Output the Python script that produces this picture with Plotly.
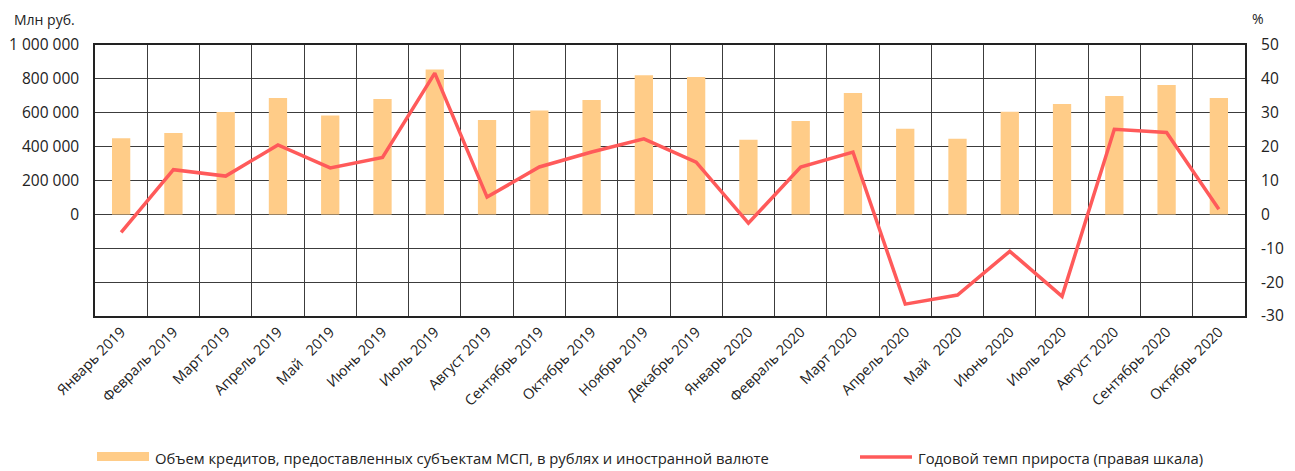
import plotly.graph_objects as go

months = ["Январь 2019", "Февраль 2019", "Март 2019", "Апрель 2019", "Май   2019", "Июнь 2019",
          "Июль 2019", "Август 2019", "Сентябрь 2019", "Октябрь 2019", "Ноябрь 2019", "Декабрь 2019",
          "Январь 2020", "Февраль 2020", "Март 2020", "Апрель 2020", "Май   2020", "Июнь 2020",
          "Июль 2020", "Август 2020", "Сентябрь 2020", "Октябрь 2020"]
volume = [450000, 480000, 604000, 687000, 584000, 681000, 855000, 557000, 614000, 675000, 821000,
          811000, 440000, 551000, 717000, 505000, 446000, 606000, 651000, 699000, 764000, 687000]
growth = [-5.3, 13.2, 11.3, 20.5, 13.7, 16.8, 41.7, 5.1, 14.0, 18.4, 22.3, 15.4, -2.6, 14.0, 18.4,
          -26.5, -23.8, -10.9, -24.2, 25.1, 24.2, 1.5]

left_vals = [-600000, -400000, -200000, 0, 200000, 400000, 600000, 800000, 1000000]
left_text = ["", "", "", "0", "200 000", "400 000", "600 000", "800 000", "1 000 000"]
right_vals = [-30, -20, -10, 0, 10, 20, 30, 40, 50]
right_text = ["-30", "-20", "-10", "0", "10", "20", "30", "40", "50"]

bar_name = "Объем кредитов, предоставленных субъектам МСП, в рублях и иностранной валюте"
line_name = "Годовой темп прироста (правая шкала)"

BAR_COLOR = "#FFCC88"
LINE_COLOR = "#FF5A5A"
FONT = "Open Sans"
GRID = "#3c3c3c"

# the page body has an 8px margin, so the figure is laid out 8px smaller
OFF = 8
W, H = 1295 - OFF, 471 - OFF
L, R, T, B = 95 - OFF, 50, 45 - OFF, 155
PW, PH = W - L - R, H - T - B


def px(xw):
    return (xw - OFF - L) / PW


def py(yw):
    return (H - B - (yw - OFF)) / PH


fig = go.Figure()
fig.add_trace(go.Bar(x=months, y=volume, name=bar_name, marker_color=BAR_COLOR,
                     marker_line_width=0, showlegend=False))
fig.add_trace(go.Scatter(x=months, y=growth, name=line_name, yaxis="y2", mode="lines",
                         line=dict(color=LINE_COLOR, width=3.5), showlegend=False))

shapes = [
    dict(type="rect", xref="paper", yref="paper", x0=px(97), x1=px(149), y0=py(461), y1=py(452),
         fillcolor=BAR_COLOR, line_width=0, layer="above"),
    dict(type="line", xref="paper", yref="paper", x0=px(860), x1=px(912), y0=py(457), y1=py(457),
         line=dict(color=LINE_COLOR, width=3.5), layer="above"),
]

annotations = [
    dict(text="Млн руб.", xref="paper", yref="paper", x=px(12), y=py(20),
         xanchor="left", yanchor="middle", showarrow=False, font=dict(size=14)),
    dict(text="%", xref="paper", yref="paper", x=px(1250), y=py(19),
         xanchor="left", yanchor="middle", showarrow=False, font=dict(size=14)),
    dict(text=bar_name, xref="paper", yref="paper", x=px(153), y=py(458),
         xanchor="left", yanchor="middle", showarrow=False, font=dict(size=14.8)),
    dict(text=line_name, xref="paper", yref="paper", x=px(916), y=py(458),
         xanchor="left", yanchor="middle", showarrow=False, font=dict(size=14.8)),
]

fig.update_layout(
    width=W, height=H,
    margin=dict(l=L, r=R, t=T, b=B, autoexpand=False),
    plot_bgcolor="white", paper_bgcolor="white",
    font=dict(family=FONT, size=15.5, color="#222"),
    bargap=0.65,
    showlegend=False,
    xaxis=dict(type="category", tickson="boundaries", showgrid=True, gridcolor=GRID, gridwidth=1,
               tickangle=-45, tickfont=dict(size=14.5, family=FONT), ticks="outside", ticklen=10,
               tickcolor="rgba(0,0,0,0)", automargin=False,
               showline=True, linecolor="#222", linewidth=1.5, mirror=True),
    yaxis=dict(range=[-600000, 1000000], tickvals=left_vals, ticktext=left_text,
               showgrid=True, gridcolor=GRID, gridwidth=1, zeroline=False, automargin=False,
               ticks="outside", ticklen=11, tickcolor="rgba(0,0,0,0)",
               showline=True, linecolor="#222", linewidth=1.5, mirror=True),
    yaxis2=dict(range=[-30, 50], tickvals=right_vals, ticktext=right_text, overlaying="y",
                side="right", showgrid=False, zeroline=False, automargin=False,
                ticks="outside", ticklen=12, tickcolor="rgba(0,0,0,0)"),
    shapes=shapes,
    annotations=annotations,
)

fig.write_html("out.html")
